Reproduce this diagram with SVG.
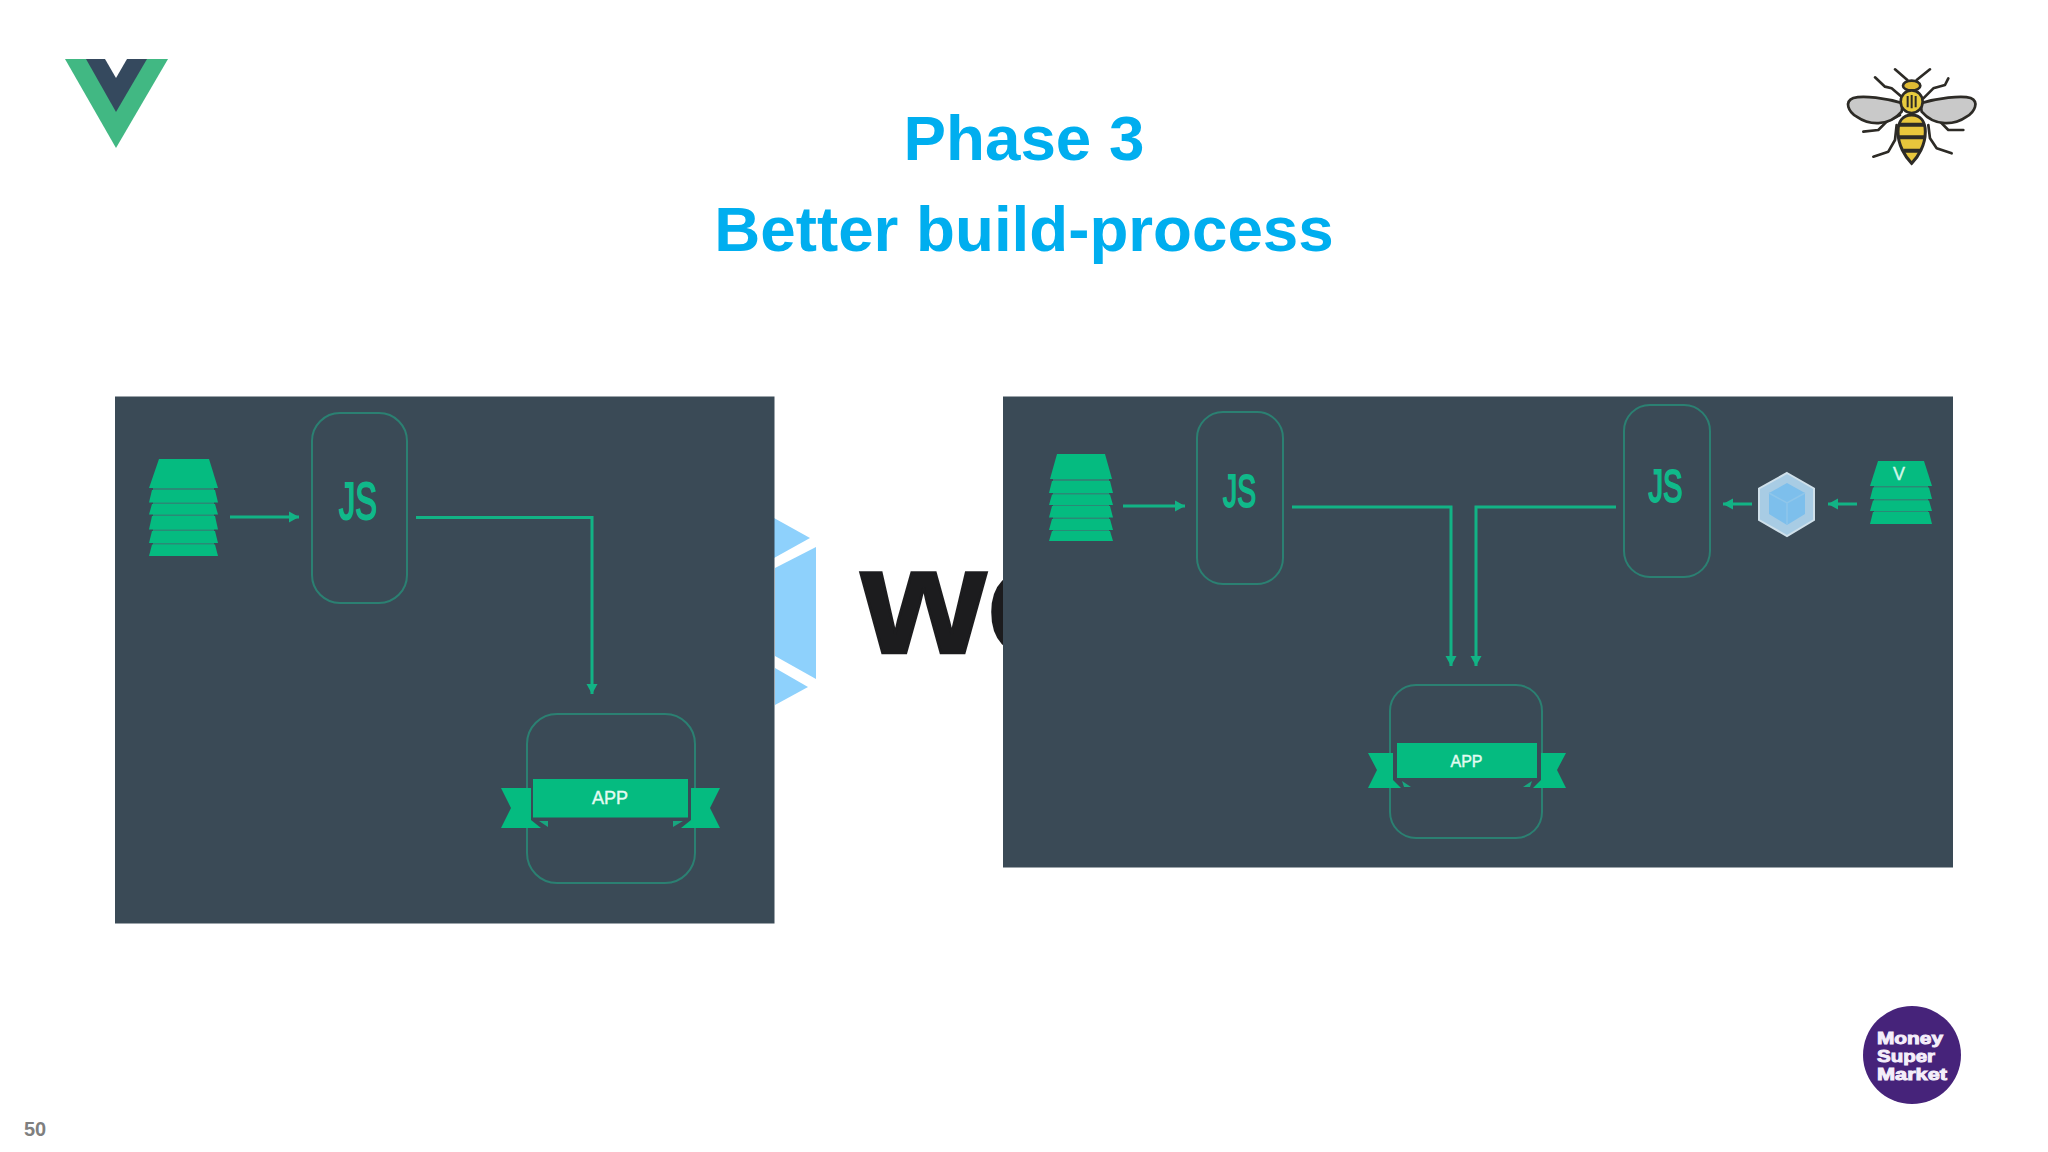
<svg xmlns="http://www.w3.org/2000/svg" width="2048" height="1152" viewBox="0 0 2048 1152">
<style>
.panel{fill:#3a4a56}
.g{fill:#05bb80}
.back{fill:#2a8a76}
.box{fill:none;stroke:#2b8072;stroke-width:2}
.conn{fill:none;stroke:#12b385;stroke-width:3;marker-end:url(#ah)}
.js{font-family:"Liberation Sans",Arial,sans-serif;font-weight:400;fill:#10b98a;stroke:#10b98a;stroke-width:2;text-anchor:middle}
.app{font-family:"Liberation Sans",Arial,sans-serif;fill:#e4fbf2;stroke:#e4fbf2;stroke-width:.4;text-anchor:middle}
.title{font-family:"Liberation Sans",Arial,sans-serif;font-weight:700;font-size:63.7px;fill:#00aeef;text-anchor:middle}
.fold{fill:#18a67f}
.msm{font-family:"Liberation Sans",Arial,sans-serif;font-weight:700;font-size:16px;fill:#f4eefa;stroke:#f4eefa;stroke-width:.9}
.bk{stroke:#2d2b26;stroke-width:8;fill:none;stroke-linejoin:round;stroke-linecap:round}
</style>
<defs>
<marker id="ah" markerUnits="userSpaceOnUse" markerWidth="12" markerHeight="12" refX="10" refY="6" orient="auto"><path d="M0,0.5 L10,6 L0,11.5 Z" fill="#12b385"/></marker>
</defs>
<rect width="2048" height="1152" fill="#fff"/>

<g id="vue-logo">
<polygon points="65,59 168,59 116,148" fill="#41b883"/>
<polygon points="86,59 147,59 116,112" fill="#35495e"/>
<polygon points="105,59 127,59 116,78" fill="#fff"/>
</g>

<g id="title">
<text class="title" x="1024" y="160">Phase 3</text>
<text class="title" x="1024" y="251">Better build-process</text>
</g>

<g id="bee" transform="translate(1820,50) scale(.3333)">
<path class="bk" d="M225,58 L262,90 M330,58 L290,90"/>
<path class="bk" d="M165,82 L195,110 L215,115 L250,145 M385,85 L375,105 L340,115 L310,145"/>
<path class="bk" d="M130,245 L175,240 L200,215 L240,195 M430,240 L385,240 L360,215 L320,195"/>
<path class="bk" d="M160,320 L205,305 L225,270 L230,225 M395,310 L350,295 L330,265 L325,225"/>
<path d="M248,160 C200,145 130,135 100,144 C72,155 85,185 110,200 C145,225 205,232 245,185 Z" fill="#c9c9c9" stroke="#2d2b26" stroke-width="8"/>
<path d="M302,160 C350,145 425,135 452,144 C478,155 465,185 440,200 C405,225 345,232 305,185 Z" fill="#c9c9c9" stroke="#2d2b26" stroke-width="8"/>
<path d="M275,195 C248,195 234,215 234,245 C234,285 255,320 275,340 C295,320 316,285 316,245 C316,215 302,195 275,195 Z" fill="#e8c63c" stroke="#2d2b26" stroke-width="9"/>
<path d="M238,224 H312 M236,262 H314 M250,302 H300" stroke="#2d2b26" stroke-width="12"/>
<ellipse cx="275" cy="107" rx="26" ry="15" fill="#e0bb34" stroke="#2d2b26" stroke-width="8"/>
<ellipse cx="275" cy="155" rx="33" ry="34" fill="#e8cc3e" stroke="#2d2b26" stroke-width="8"/>
<path d="M263,138 V172 M275,135 V175 M287,138 V172" stroke="#2d2b26" stroke-width="6"/>
</g>

<g id="webpack-logo">
<polygon points="774,518 810,538 774,558" fill="#8ed1fc"/>
<polygon points="816,547 816,679 775,656 775,568" fill="#8ed1fc"/>
<polygon points="775,668 808,687 775,705" fill="#8ed1fc"/>
<text transform="translate(861,653) scale(1.06,1)" font-family="'Liberation Sans',Arial,sans-serif" font-weight="700" font-size="152" fill="#1c1c1e" stroke="#1c1c1e" stroke-width="2.500">we</text>
</g>

<g id="panel-left">
<rect class="panel" x="115" y="396.5" width="659.5" height="527"/>
<g id="stack-left">
<rect class="back" x="153" y="486" width="61" height="68"/>
<g class="g">
<polygon points="159,459 209,459 218,488 149,488"/>
<polygon points="152,490 215,490 218,502.500 149,502.500"/>
<polygon points="152,504 215,504 218,514.500 149,514.500"/>
<polygon points="152,516 215,516 218,529.500 149,529.500"/>
<polygon points="152,531 215,531 218,543 149,543"/>
<polygon points="152,544.500 215,544.500 218,556 149,556"/>
</g>
</g>
<g id="js-left">
<rect class="box" x="312" y="413" width="95" height="190" rx="28"/>
<text class="js" x="358" y="519" font-size="51" textLength="38" lengthAdjust="spacingAndGlyphs">JS</text>
</g>
<g id="app-left">
<rect class="box" x="527" y="714" width="168" height="169" rx="30"/>
<polygon class="g" points="501,788 531,788 531,820 541,828 501,828 511,808"/>
<polygon class="g" points="720,788 691,788 691,820 681,828 720,828 710,808"/>
<polygon class="fold" points="539,821 548,821 548,827"/>
<polygon class="fold" points="683,821 673,821 673,827"/>
<rect x="533" y="779" width="155" height="38.500" fill="#05bb80"/>
<text class="app" x="610" y="804" font-size="18">APP</text>
</g>
</g>

<g id="panel-right">
<rect class="panel" x="1003" y="396.5" width="950" height="471"/>
<g id="stack-right">
<rect class="back" x="1053" y="477" width="56" height="62"/>
<g class="g">
<polygon points="1057,454 1105,454 1112,479 1050,479"/>
<polygon points="1052,481 1110,481 1113,493 1049,493"/>
<polygon points="1052,494.500 1110,494.500 1113,505 1049,505"/>
<polygon points="1052,506 1110,506 1113,517.500 1049,517.500"/>
<polygon points="1052,519 1110,519 1113,530 1049,530"/>
<polygon points="1052,531 1110,531 1113,541 1049,541"/>
</g>
</g>
<g id="js-right-a">
<rect class="box" x="1197" y="412" width="86" height="172" rx="26"/>
<text class="js" x="1239.500" y="507" font-size="47" textLength="33" lengthAdjust="spacingAndGlyphs">JS</text>
</g>
<g id="js-right-b">
<rect class="box" x="1624" y="405" width="86" height="172" rx="26"/>
<text class="js" x="1665.500" y="502" font-size="47" textLength="34" lengthAdjust="spacingAndGlyphs">JS</text>
</g>
<g id="webpack-icon">
<polygon points="1787,473 1814,488.500 1814,520 1787,536 1759,520 1759,488.500" fill="#a8cce4" stroke="#cfe0ea" stroke-width="2"/>
<polygon points="1787,483 1805,493 1805,514 1787,525 1769,514 1769,493" fill="#7dbfec"/>
<path d="M1769,493 L1787,503 L1805,493 M1787,503 V525" fill="none" stroke="#8fc6ea" stroke-width="1.500"/>
</g>
<g id="stack-vue">
<rect class="back" x="1874" y="484" width="54" height="38"/>
<g class="g">
<polygon points="1878,461 1924,461 1932,486 1870,486"/>
<polygon points="1873,487.500 1929,487.500 1932,499 1870,499"/>
<polygon points="1873,500.500 1929,500.500 1932,511 1870,511"/>
<polygon points="1873,512 1929,512 1932,524 1870,524"/>
</g>
<text class="app" x="1899" y="480" font-size="18" style="fill:#d3f7e9;stroke:#d3f7e9">V</text>
</g>
<g id="app-right">
<rect class="box" x="1390" y="685" width="152" height="153" rx="26"/>
<polygon class="g" points="1368,753 1393,753 1393,780 1401,788 1368,788 1377,770"/>
<polygon class="g" points="1566,753 1541,753 1541,780 1533,788 1566,788 1557,770"/>
<polygon class="fold" points="1402,781 1411,787 1404,787"/>
<polygon class="fold" points="1532,781 1523,787 1530,787"/>
<rect x="1397" y="743" width="140" height="35" fill="#05bb80"/>
<text class="app" x="1466.500" y="767" font-size="16">APP</text>
</g>
</g>

<g id="connectors">
<path class="conn" d="M230,517 H299"/>
<path class="conn" d="M416,517.500 H592 V694"/>
<path class="conn" d="M1123,506 H1185"/>
<path class="conn" d="M1292,507 H1451 V666"/>
<path class="conn" d="M1616,507 H1476 V666"/>
<path class="conn" d="M1752,504 H1723"/>
<path class="conn" d="M1857,504 H1828"/>
</g>

<g id="money-logo">
<circle cx="1912" cy="1055" r="49" fill="#46237a"/>
<text class="msm" x="1877" y="1044" textLength="66" lengthAdjust="spacingAndGlyphs">Money</text>
<text class="msm" x="1877" y="1062" textLength="58" lengthAdjust="spacingAndGlyphs">Super</text>
<text class="msm" x="1877" y="1080" textLength="70" lengthAdjust="spacingAndGlyphs">Market</text>
</g>

<text x="24" y="1136" font-family="'Liberation Sans',Arial,sans-serif" font-weight="700" font-size="20" fill="#7f7f7f">50</text>
</svg>
